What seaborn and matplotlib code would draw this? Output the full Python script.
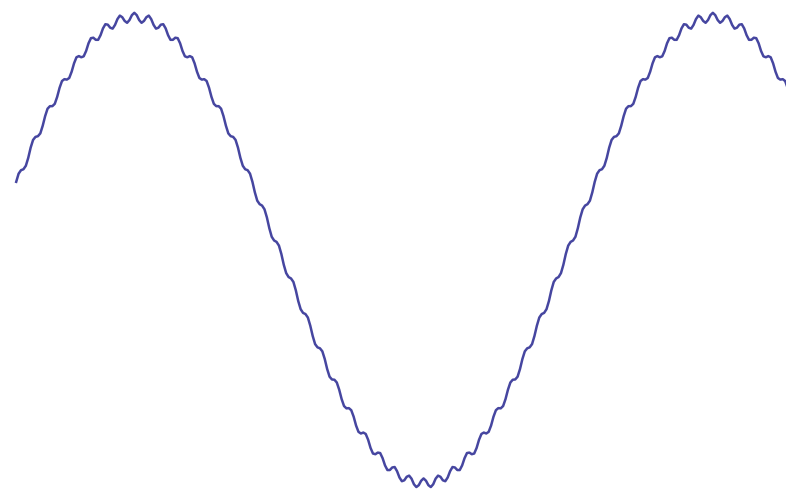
import numpy as np
import seaborn as sns
import matplotlib
matplotlib.use("Agg")
import matplotlib.pyplot as plt

# Curve values, one sample every ~2.4 px, in units of the main amplitude
first_rise = [
    0.294, 0.329, 0.344, 0.348, 0.363, 0.397, 0.441, 0.474, 0.487, 0.490,
    0.502, 0.535, 0.576, 0.608, 0.619, 0.619, 0.629, 0.659, 0.698, 0.727,
    0.735, 0.733, 0.740, 0.767, 0.803, 0.829, 0.834, 0.829, 0.833, 0.856,
    0.889, 0.911, 0.913, 0.904, 0.904, 0.924, 0.953, 0.971, 0.969, 0.956,
    0.952, 0.968, 0.993, 1.008, 1.001, 0.985, 0.977, 0.989, 1.010, 1.020,
]
descent = [
    1.010, 0.989, 0.977, 0.985, 1.001, 1.008, 0.993, 0.968, 0.952, 0.956,
    0.969, 0.971, 0.953, 0.924, 0.904, 0.904, 0.913, 0.911, 0.889, 0.856,
    0.833, 0.829, 0.834, 0.829, 0.803, 0.767, 0.740, 0.733, 0.735, 0.727,
    0.698, 0.659, 0.629, 0.619, 0.619, 0.608, 0.576, 0.535, 0.502, 0.490,
    0.487, 0.474, 0.441, 0.397, 0.363, 0.348, 0.344, 0.329, 0.294, 0.249,
    0.213, 0.198, 0.192, 0.176, 0.141, 0.095, 0.058, 0.042, 0.036, 0.020,
    -0.016, -0.062, -0.098, -0.115, -0.121, -0.136, -0.172, -0.218, -0.253, -0.269,
    -0.274, -0.289, -0.324, -0.368, -0.403, -0.417, -0.421, -0.434, -0.467, -0.510,
    -0.543, -0.555, -0.556, -0.568, -0.599, -0.639, -0.669, -0.679, -0.678, -0.687,
    -0.715, -0.753, -0.780, -0.787, -0.783, -0.789, -0.814, -0.849, -0.873, -0.876,
    -0.869, -0.871, -0.893, -0.924, -0.944, -0.944, -0.933, -0.931, -0.949, -0.976,
    -0.992, -0.988, -0.973, -0.968, -0.981, -1.005, -1.017, -1.009, -0.990, -0.980,
]
second_rise = [
    -0.990, -1.009, -1.017, -1.005, -0.981, -0.968, -0.973, -0.988, -0.992, -0.976,
    -0.949, -0.931, -0.933, -0.944, -0.944, -0.924, -0.893, -0.871, -0.869, -0.876,
    -0.873, -0.849, -0.814, -0.789, -0.783, -0.787, -0.780, -0.753, -0.715, -0.687,
    -0.678, -0.679, -0.669, -0.639, -0.599, -0.568, -0.556, -0.555, -0.543, -0.510,
    -0.467, -0.434, -0.421, -0.417, -0.403, -0.368, -0.324, -0.289, -0.274, -0.269,
    -0.253, -0.218, -0.172, -0.136, -0.121, -0.115, -0.098, -0.062, -0.016, 0.020,
    0.036, 0.042, 0.058, 0.095, 0.141, 0.176, 0.192, 0.198, 0.213, 0.249,
    0.294, 0.329, 0.344, 0.348, 0.363, 0.397, 0.441, 0.474, 0.487, 0.490,
    0.502, 0.535, 0.576, 0.608, 0.619, 0.619, 0.629, 0.659, 0.698, 0.727,
    0.735, 0.733, 0.740, 0.767, 0.803, 0.829, 0.834, 0.829, 0.833, 0.856,
    0.889, 0.911, 0.913, 0.904, 0.904, 0.924, 0.953, 0.971, 0.969, 0.956,
    0.952, 0.968, 0.993, 1.008, 1.001, 0.985, 0.977, 0.989, 1.010, 1.020,
]
tail = [
    1.010, 0.989, 0.977, 0.985, 1.001, 1.008, 0.993, 0.968, 0.952, 0.956,
    0.969, 0.971, 0.953, 0.924, 0.904, 0.904, 0.913, 0.911, 0.889, 0.856,
    0.833, 0.829, 0.834, 0.829, 0.803, 0.767, 0.740, 0.733, 0.735, 0.727,
    0.698,
]

y = first_rise + descent + second_rise + tail
t = np.arange(len(y))

line_color = "#4646a0"

fig = plt.figure(figsize=(7.86, 4.91), dpi=100)
ax = fig.add_axes([0, 0, 1, 1])
sns.lineplot(x=t, y=y, ax=ax, color=line_color, linewidth=1.8, estimator=None)

# no axes at all, the curve fills the canvas
ax.set_xlim(-6.72, 319.35)
ax.set_ylim(-1.034, 1.075)
ax.axis("off")

plt.savefig("out.png", dpi=100)
